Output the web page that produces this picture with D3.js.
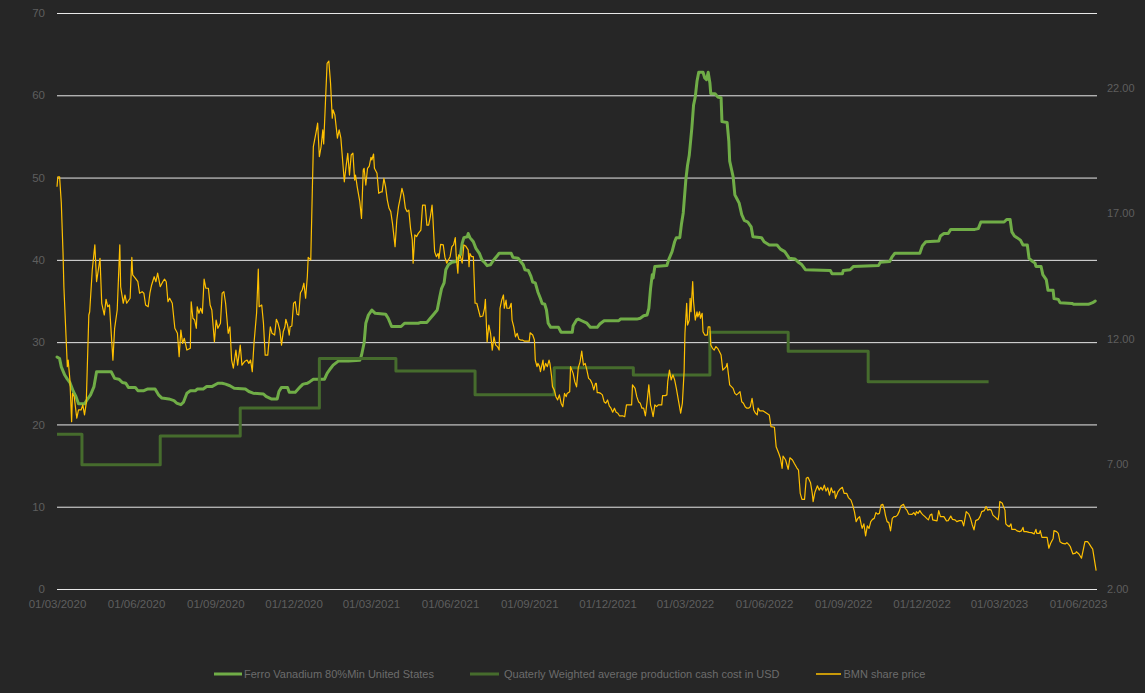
<!DOCTYPE html>
<html><head><meta charset="utf-8">
<script src="https://cdn.jsdelivr.net/npm/d3@7"></script>
<style>html,body{margin:0;padding:0;background:#262626;}svg{display:block;}</style>
</head><body><svg id="chart" width="1145" height="693"></svg>
<script>
// ---- DATA (days counted from BASE_DATE) ----
const BASE_DATE = "2020-03-01";
const seriesNames = ["Ferro Vanadium 80%Min United States", "Quaterly Weighted average production cash cost in USD", "BMN share price"];
const leftTicks = [0, 10, 20, 30, 40, 50, 60, 70];
const rightTicks = [2, 7, 12, 17, 22];
const xTickDates = ["2020-03-01","2020-06-01","2020-09-01","2020-12-01","2021-03-01","2021-06-01","2021-09-01","2021-12-01","2022-03-01","2022-06-01","2022-09-01","2022-12-01","2023-03-01","2023-06-01"];
const lastDay = 1209;

// Ferro Vanadium price (left axis) [day, value]
const fevPoints = [[0,28.2],[3,28.0],[5,27.0],[9,26.0],[12,25.5],[15,25.1],[19,24.0],[22,23.4],[25,22.5],[32,22.5],[35,23.0],[39,23.6],[43,24.6],[46,26.4],[63,26.4],[67,25.6],[72,25.5],[76,25.1],[80,25.0],[83,24.5],[91,24.5],[94,24.1],[101,24.1],[105,24.3],[114,24.3],[118,23.6],[122,23.2],[130,23.1],[136,22.9],[139,22.6],[144,22.4],[147,22.7],[151,23.8],[155,24.1],[161,24.1],[163,24.3],[170,24.3],[174,24.6],[180,24.6],[187,25.0],[192,25.0],[196,24.9],[201,24.7],[206,24.4],[219,24.3],[223,24.0],[228,23.8],[240,23.7],[243,23.4],[249,23.1],[256,23.1],[258,24.0],[261,24.5],[268,24.5],[270,23.9],[277,23.9],[283,24.6],[286,24.9],[291,25.0],[294,25.2],[298,25.5],[311,25.5],[314,26.2],[318,26.8],[321,27.2],[327,27.7],[339,27.7],[352,27.8],[354,28.4],[357,29.9],[359,32.3],[362,33.3],[366,33.9],[370,33.5],[382,33.4],[385,32.9],[389,31.9],[400,31.9],[404,32.3],[420,32.3],[423,32.4],[430,32.4],[434,32.9],[438,33.4],[442,33.9],[445,35.5],[447,36.5],[450,37.2],[452,38.8],[455,39.4],[459,39.7],[464,39.8],[469,40.6],[471,42.0],[473,42.7],[477,42.8],[478,43.2],[480,42.7],[484,42.2],[487,41.4],[491,40.8],[494,40.0],[497,39.7],[500,39.3],[504,39.4],[507,39.9],[511,40.4],[514,40.8],[528,40.8],[530,40.3],[536,40.2],[539,39.8],[542,39.4],[544,38.8],[548,38.7],[551,38.0],[553,37.3],[556,37.2],[559,36.1],[562,35.3],[564,34.7],[567,34.6],[569,33.9],[571,32.3],[574,31.8],[583,31.8],[586,31.2],[599,31.2],[600,32.0],[604,32.7],[606,32.8],[610,32.6],[616,32.3],[620,31.8],[628,31.8],[631,32.2],[636,32.6],[653,32.6],[655,32.8],[674,32.8],[678,32.9],[682,33.2],[686,33.3],[688,34.1],[690,36.5],[692,38.2],[693,37.8],[695,39.2],[709,39.3],[711,40.0],[715,41.0],[718,42.2],[720,42.7],[724,42.7],[726,44.4],[728,45.7],[731,49.7],[733,51.5],[735,52.7],[738,56.0],[740,58.8],[742,59.8],[744,61.7],[746,62.8],[751,62.8],[753,62.1],[755,61.9],[757,62.8],[759,61.5],[760,60.2],[765,60.2],[768,59.8],[772,59.7],[773,56.8],[779,56.7],[781,54.4],[782,52.0],[786,50.1],[788,47.9],[791,47.3],[793,46.9],[796,45.5],[799,44.8],[803,44.6],[807,44.0],[809,42.8],[819,42.7],[822,42.2],[828,41.8],[837,41.8],[841,41.3],[846,41.0],[850,40.4],[851,40.2],[858,40.1],[862,39.7],[866,39.4],[870,38.8],[899,38.7],[901,38.3],[913,38.3],[914,38.7],[922,38.8],[926,39.2],[955,39.3],[957,39.7],[968,39.8],[971,40.4],[974,40.8],[1003,40.8],[1006,41.7],[1010,42.2],[1025,42.3],[1027,42.9],[1031,43.2],[1036,43.2],[1039,43.7],[1067,43.7],[1071,43.8],[1074,44.6],[1077,44.6],[1101,44.6],[1104,44.9],[1108,44.9],[1110,43.4],[1113,42.9],[1116,42.7],[1120,42.4],[1123,41.8],[1128,41.8],[1130,40.2],[1133,39.9],[1137,39.6],[1138,39.2],[1144,39.2],[1146,38.2],[1150,37.6],[1152,36.3],[1158,36.3],[1159,35.3],[1164,35.2],[1166,34.8],[1180,34.7],[1182,34.6],[1199,34.6],[1204,34.8],[1207,35.0]];

// Quarterly weighted average production cash cost (left axis), step starts
const costDays = [0, 29, 120, 213, 305, 394, 486, 578, 670, 759, 850, 943, 1083];
const costValues = [18.8, 15.1, 18.6, 22.0, 28.0, 26.5, 23.6, 26.9, 26.0, 31.2, 28.9, 25.2, 25.2];

// BMN share price (right axis) [day, value]
const bmnPoints = [[0,18.06],[1,18.46],[3,18.46],[5,17.41],[7,15.42],[8,14.07],[11,11.68],[12,10.88],[13,11.14],[15,10.35],[17,8.68],[18,9.81],[20,9.68],[23,8.82],[25,9.15],[28,9.15],[30,9.35],[32,8.95],[34,9.42],[37,12.94],[38,13.07],[41,14.74],[44,15.74],[46,14.27],[50,15.2],[52,13.41],[55,12.94],[57,13.57],[59,13.27],[61,13.34],[65,11.14],[67,12.41],[70,13.14],[73,15.74],[74,14.07],[77,13.41],[79,13.74],[81,13.41],[85,13.61],[87,15.24],[88,14.54],[91,14.41],[94,14.27],[96,13.81],[99,13.87],[101,13.81],[103,13.34],[106,13.27],[108,13.81],[110,14.14],[113,14.47],[115,14.27],[117,14.61],[120,14.07],[123,14.27],[125,14.37],[127,14.27],[129,13.47],[131,13.61],[134,13.41],[137,12.41],[140,12.21],[142,11.28],[144,12.34],[146,11.81],[148,12.01],[151,11.54],[155,11.61],[156,13.47],[158,12.81],[160,12.74],[162,12.41],[163,13.27],[165,13.01],[167,13.21],[169,13.01],[171,14.37],[173,14.01],[176,14.01],[178,13.34],[180,13.14],[183,11.87],[185,12.74],[187,12.41],[190,12.61],[192,13.81],[194,13.87],[196,13.41],[199,12.21],[201,12.47],[203,11.14],[205,10.82],[208,11.54],[210,10.94],[213,11.74],[215,10.94],[218,11.08],[221,11.14],[223,11.01],[225,11.14],[227,10.68],[229,11.81],[232,13.01],[234,14.77],[235,13.27],[238,13.34],[240,12.61],[242,11.34],[245,11.34],[248,12.47],[250,12.21],[253,12.14],[255,12.77],[257,12.61],[259,12.34],[261,11.74],[263,12.27],[265,12.47],[266,12.77],[268,12.54],[270,12.14],[271,12.47],[273,12.5],[275,13.41],[277,13.47],[279,12.97],[281,12.94],[283,13.83],[285,13.94],[287,14.21],[289,13.61],[291,14.47],[292,15.24],[295,15.14],[297,18.2],[298,19.66],[301,20.2],[303,20.6],[305,19.26],[307,19.66],[309,20.33],[310,19.77],[312,21.39],[314,22.99],[316,23.08],[318,22.19],[320,20.8],[321,21.13],[323,20.93],[326,20.0],[328,20.33],[330,20.0],[332,19.13],[334,18.26],[336,18.86],[338,19.4],[340,18.53],[342,19.33],[344,19.4],[346,18.33],[347,18.53],[349,18.06],[352,17.47],[354,16.8],[356,18.73],[357,18.8],[359,18.13],[361,18.8],[363,18.89],[365,19.24],[366,19.13],[368,19.37],[369,18.8],[372,18.6],[374,17.8],[377,17.86],[378,17.86],[380,18.4],[382,18.06],[384,17.53],[386,17.2],[388,17.07],[390,16.6],[393,15.67],[395,16.73],[397,17.27],[399,17.61],[401,18.0],[403,17.73],[405,17.2],[407,17.07],[409,17.13],[411,16.4],[413,15.94],[414,15.01],[416,16.14],[418,16.07],[420,16.2],[423,16.33],[425,17.33],[428,17.33],[430,16.53],[432,16.53],[434,16.87],[436,17.33],[437,16.8],[439,15.47],[441,15.27],[443,15.4],[444,15.2],[446,15.76],[449,15.74],[451,15.24],[453,15.01],[455,15.14],[457,15.27],[459,15.67],[461,15.74],[463,16.03],[464,15.34],[466,14.61],[467,15.34],[469,15.27],[471,15.01],[473,15.74],[475,15.7],[478,15.54],[479,14.87],[480,15.4],[482,15.27],[484,15.27],[486,13.41],[488,13.41],[490,13.14],[492,12.87],[495,12.9],[497,13.21],[498,13.57],[500,11.87],[502,12.54],[504,12.21],[506,11.54],[508,12.07],[510,11.74],[512,11.68],[514,11.54],[515,13.21],[517,13.54],[519,13.74],[520,13.21],[522,13.54],[523,13.21],[526,13.21],[528,13.41],[529,12.74],[531,12.47],[533,12.07],[535,12.21],[537,11.97],[539,11.94],[541,11.94],[543,11.9],[546,11.9],[549,11.9],[550,12.23],[553,12.14],[555,11.94],[556,11.14],[558,10.88],[559,11.01],[561,10.88],[562,10.68],[565,11.14],[566,10.74],[568,11.01],[570,10.88],[572,11.14],[573,11.01],[575,10.48],[576,10.08],[578,9.95],[580,9.68],[582,9.55],[584,9.75],[586,9.42],[588,9.28],[590,9.81],[592,9.68],[593,9.81],[596,9.88],[597,10.88],[600,10.61],[602,10.27],[604,10.07],[606,10.84],[608,11.06],[610,11.5],[612,10.94],[614,11.01],[616,10.74],[618,10.41],[620,10.35],[622,10.21],[624,9.95],[626,10.21],[627,10.21],[628,9.84],[630,9.84],[632,9.81],[634,9.75],[636,9.48],[638,9.42],[640,9.55],[642,9.31],[644,9.22],[646,9.06],[648,9.22],[650,9.06],[652,9.02],[654,8.91],[658,8.91],[660,8.88],[662,9.35],[666,9.35],[668,9.35],[669,10.15],[672,10.01],[674,9.68],[676,9.48],[678,9.42],[680,9.22],[682,9.22],[684,8.91],[686,9.48],[688,10.15],[690,9.35],[691,9.22],[693,8.88],[695,9.35],[697,9.28],[699,9.35],[703,9.35],[704,9.72],[707,9.72],[709,9.75],[710,10.28],[712,10.74],[714,10.35],[716,10.55],[718,10.35],[720,10.01],[722,9.61],[724,9.22],[725,9.02],[727,9.42],[729,10.68],[730,12.21],[732,13.41],[733,12.54],[735,12.74],[736,13.61],[737,13.07],[739,14.27],[740,13.47],[742,12.74],[744,13.07],[745,12.87],[747,13.07],[748,12.81],[750,13.01],[751,12.27],[753,12.14],[756,12.14],[757,12.47],[759,12.47],[760,11.74],[762,11.61],[764,11.54],[766,11.68],[768,11.61],[770,11.48],[772,11.34],[774,10.74],[776,10.81],[778,10.88],[779,11.01],[782,10.15],[784,10.08],[786,10.01],[788,9.81],[790,9.75],[792,9.81],[794,9.88],[796,9.48],[798,9.42],[800,9.28],[802,9.22],[804,9.22],[806,9.28],[808,9.61],[810,9.15],[812,9.02],[814,8.95],[815,9.22],[817,9.11],[821,9.11],[825,9.02],[828,8.95],[830,8.48],[834,8.46],[836,7.68],[839,7.42],[841,7.22],[843,6.82],[844,7.31],[847,7.15],[850,6.78],[852,7.24],[855,7.15],[857,7.02],[860,6.84],[862,6.75],[864,5.82],[866,5.58],[869,5.58],[871,6.42],[873,6.46],[876,6.24],[878,5.82],[879,5.49],[881,5.85],[884,6.12],[886,5.95],[888,6.06],[890,5.95],[892,6.15],[894,5.91],[896,6.04],[898,5.75],[900,6.04],[902,5.85],[904,5.91],[905,5.62],[908,5.89],[910,5.98],[913,6.06],[915,5.82],[918,5.82],[920,5.65],[923,5.55],[925,5.35],[927,5.09],[929,4.69],[931,4.82],[933,4.89],[935,4.56],[936,4.42],[938,4.6],[940,4.12],[942,4.52],[944,4.42],[946,4.69],[948,4.78],[950,4.82],[952,5.05],[954,4.99],[956,5.02],[958,5.35],[960,5.38],[962,5.15],[963,4.95],[965,4.69],[967,4.65],[969,4.32],[971,4.82],[973,4.89],[975,4.89],[977,4.95],[979,5.09],[981,5.31],[984,5.38],[986,5.22],[988,5.15],[990,4.99],[994,4.98],[996,5.05],[998,4.95],[999,5.09],[1001,5.02],[1003,5.13],[1005,5.02],[1007,4.95],[1009,4.89],[1011,4.82],[1013,4.76],[1015,4.95],[1017,4.99],[1018,4.76],[1023,4.72],[1025,5.13],[1027,4.89],[1031,4.89],[1034,4.72],[1036,4.73],[1039,4.91],[1041,4.78],[1044,4.76],[1046,4.69],[1049,4.73],[1052,4.73],[1054,4.52],[1057,5.09],[1060,4.99],[1062,4.82],[1064,4.56],[1066,4.36],[1068,4.73],[1071,4.78],[1073,4.89],[1075,5.09],[1078,5.13],[1080,5.29],[1082,5.15],[1084,5.18],[1086,5.15],[1088,4.95],[1091,4.86],[1094,4.76],[1095,4.99],[1096,5.49],[1099,5.42],[1100,5.31],[1102,5.15],[1103,4.6],[1105,4.53],[1107,4.49],[1109,4.6],[1110,4.38],[1114,4.38],[1116,4.32],[1119,4.29],[1121,4.32],[1123,4.46],[1124,4.29],[1127,4.29],[1130,4.26],[1133,4.25],[1136,4.2],[1138,4.38],[1139,4.22],[1142,4.22],[1143,4.33],[1145,4.06],[1151,4.06],[1153,3.63],[1155,3.82],[1158,4.02],[1159,4.33],[1162,4.29],[1164,4.22],[1166,3.89],[1169,3.82],[1172,3.8],[1174,3.85],[1176,3.78],[1178,3.69],[1181,3.4],[1184,3.43],[1185,3.49],[1188,3.4],[1191,3.23],[1193,3.56],[1195,3.89],[1198,3.89],[1200,3.8],[1202,3.69],[1204,3.59],[1206,3.16],[1208,2.73]];

// ---- CHART ----
const W = 1145, H = 693;
const plot = {left: 57, right: 1097, top: 13, bottom: 589};
const colors = ["#70ad47", "#466c2d", "#ffc000"];
const textColor = "#5e5e5e";
const legendColor = "#6c6c6c";
const font = "'Liberation Sans', Arial, sans-serif";

const base = new Date(BASE_DATE + "T00:00:00Z");
const toDate = d => d3.utcDay.offset(base, d);

const svg = d3.select("#chart");
svg.append("rect").attr("width", W).attr("height", H).attr("fill", "#262626");

const x = d3.scaleUtc().domain([base, toDate(lastDay)]).range([plot.left, plot.right]);
const yL = d3.scaleLinear().domain([0, 70]).range([plot.bottom, plot.top]);
const yR = d3.scaleLinear().domain([2, 25]).range([plot.bottom, plot.top]);

// gridlines
const grid = svg.append("g").attr("transform", `translate(${plot.left},0)`)
  .call(d3.axisLeft(yL).tickValues(leftTicks).tickSize(-(plot.right - plot.left)).tickFormat(""));
grid.select(".domain").remove();
grid.selectAll("line").attr("stroke", "#e8e8e8").attr("stroke-width", 1);

// left axis labels
const gL = svg.append("g").attr("transform", `translate(${plot.left},0)`)
  .call(d3.axisLeft(yL).tickValues(leftTicks).tickSize(0).tickPadding(12).tickFormat(d3.format("d")));
gL.select(".domain").remove();
gL.selectAll("text").attr("fill", textColor).style("font-family", font).style("font-size", "11.5px");

// right axis labels
const gR = svg.append("g").attr("transform", `translate(${plot.right},0)`)
  .call(d3.axisRight(yR).tickValues(rightTicks).tickSize(0).tickPadding(10).tickFormat(d3.format(".2f")));
gR.select(".domain").remove();
gR.selectAll("text").attr("fill", textColor).style("font-family", font).style("font-size", "11px");

// x axis labels
const gX = svg.append("g").attr("transform", `translate(0,${plot.bottom})`)
  .call(d3.axisBottom(x).tickValues(xTickDates.map(s => new Date(s + "T00:00:00Z"))).tickSize(0).tickPadding(11).tickFormat(d3.utcFormat("%d/%m/%Y")));
gX.select(".domain").remove();
gX.selectAll("text").attr("fill", textColor).style("font-family", font).style("font-size", "11.5px");

// series
const lineL = d3.line().x(p => x(toDate(p[0]))).y(p => yL(p[1]));
const lineR = d3.line().x(p => x(toDate(p[0]))).y(p => yR(p[1]));
const stepL = d3.line().curve(d3.curveStepAfter).x(p => x(toDate(p[0]))).y(p => yL(p[1]));

svg.append("path").datum(fevPoints).attr("d", lineL)
  .attr("fill", "none").attr("stroke", colors[0]).attr("stroke-width", 3).attr("stroke-linejoin", "round").attr("stroke-linecap", "round");
svg.append("path").datum(costDays.map((d, i) => [d, costValues[i]])).attr("d", stepL)
  .attr("fill", "none").attr("stroke", colors[1]).attr("stroke-width", 3).attr("stroke-linejoin", "round");
svg.append("path").datum(bmnPoints).attr("d", lineR)
  .attr("fill", "none").attr("stroke", colors[2]).attr("stroke-width", 1.2).attr("stroke-linejoin", "round");

// legend
const legendY = 674;
const legendItems = [
  {x0: 214, x1: 242, tx: 244, w: 3},
  {x0: 470, x1: 499, tx: 504, w: 3},
  {x0: 816, x1: 841, tx: 843.5, w: 1.5}
];
const lg = svg.append("g");
legendItems.forEach((it, i) => {
  lg.append("line").attr("x1", it.x0).attr("x2", it.x1).attr("y1", legendY).attr("y2", legendY)
    .attr("stroke", colors[i]).attr("stroke-width", it.w);
  lg.append("text").attr("x", it.tx).attr("y", legendY).attr("dy", "0.35em")
    .attr("fill", legendColor).style("font-family", font).style("font-size", "11px")
    .text(seriesNames[i]);
});
</script>
</body></html>
